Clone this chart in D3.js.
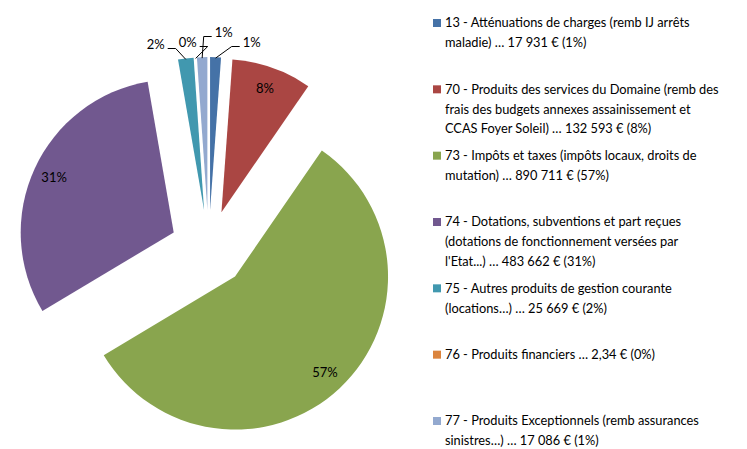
<!DOCTYPE html>
<html>
<head>
<meta charset="utf-8">
<script src="https://cdn.jsdelivr.net/npm/d3@7"></script>
<style>
  body { margin: 0; background: #fff; }
  text { font-family: "Lato", "Liberation Sans", sans-serif; fill: #000; }
</style>
</head>
<body>
<div id="chart"></div>
<script>
// Data
const codes = ["13", "70", "73", "74", "75", "76", "77"];
const amounts = [17931, 132593, 890711, 483662, 25669, 2.34, 17086];
const percentLabels = ["1%", "8%", "57%", "31%", "2%", "0%", "1%"];
const legendLines = [
  ["13 - Atténuations de charges (remb IJ arrêts", "maladie) … 17 931 € (1%)"],
  ["70 - Produits des services du Domaine (remb des", "frais des budgets annexes assainissement et", "CCAS Foyer Soleil) … 132 593 € (8%)"],
  ["73 - Impôts et taxes (impôts locaux, droits de", "mutation) … 890 711 € (57%)"],
  ["74 - Dotations, subventions et part reçues", "(dotations de fonctionnement versées par", "l'Etat...) … 483 662 € (31%)"],
  ["75 - Autres produits de gestion courante", "(locations…) … 25 669 € (2%)"],
  ["76 - Produits financiers … 2,34 € (0%)"],
  ["77 - Produits Exceptionnels (remb assurances", "sinistres…) … 17 086 € (1%)"]
];
const colors = ["#4572A7", "#AA4643", "#89A54E", "#71588F", "#4198AF", "#DB843D", "#93A9CF"];

const width = 747, height = 449;
const cx = 208.7, cy = 248.5;
const radius = 153;
const explode = 38.5;

const data = codes.map((c, i) => ({ code: c, value: amounts[i], label: percentLabels[i], color: colors[i], i }));

const svg = d3.select("#chart")
  .append("svg")
  .attr("width", width)
  .attr("height", height);

const pie = d3.pie()
  .sort(null)
  .value(d => d.value);

const arc = d3.arc()
  .innerRadius(0)
  .outerRadius(radius);

const arcs = pie(data);
const mid = d => (d.startAngle + d.endAngle) / 2;
const offset = d => [Math.sin(mid(d)) * explode, -Math.cos(mid(d)) * explode];

const pieG = svg.append("g")
  .attr("transform", `translate(${cx},${cy})`);

pieG.selectAll(".slice")
  .data(arcs)
  .enter()
  .append("path")
  .attr("class", "slice")
  .attr("d", arc)
  .attr("fill", d => d.data.color)
  .attr("transform", d => `translate(${offset(d)})`);

// inside labels for the big slices
const big = arcs.filter(d => d.endAngle - d.startAngle > 0.2);
pieG.selectAll(".in-label")
  .data(big)
  .enter()
  .append("text")
  .attr("class", "in-label")
  .attr("text-anchor", "middle")
  .attr("dy", "0.35em")
  .style("font-size", "13px")
  .attr("x", d => offset(d)[0] + Math.sin(mid(d)) * radius * 0.86)
  .attr("y", d => offset(d)[1] - Math.cos(mid(d)) * radius * 0.86)
  .text(d => d.data.label);

// outside labels for the thin slices, spread horizontally
const small = arcs.filter(d => d.endAngle - d.startAngle <= 0.2)
  .map(d => {
    let a = mid(d);
    if (a > Math.PI) a -= 2 * Math.PI;
    return { d, a };
  })
  .sort((p, q) => p.a - q.a);

const gap = 32;
const meanX = -5;
small.forEach((p, k) => {
  p.x = meanX + (k - (small.length - 1) / 2) * gap + (k === 2 ? 4 : 0);
  p.y = -206 - (k === 2 ? 10 : 0) + (k === 0 ? 2 : 0);
  const r = radius + explode;
  p.tx = Math.sin(p.a) * r;
  p.ty = -Math.cos(p.a) * r + 1;
});

pieG.selectAll(".out-label")
  .data(small)
  .enter()
  .append("text")
  .attr("class", "out-label")
  .attr("text-anchor", "middle")
  .attr("dy", "0.35em")
  .style("font-size", "13px")
  .attr("x", p => p.x)
  .attr("y", p => p.y)
  .text(p => p.d.data.label);

// leader lines (none for the 0% slice)
pieG.selectAll(".leader")
  .data(small.filter(p => p.d.data.value >= 1))
  .enter()
  .append("polyline")
  .attr("class", "leader")
  .attr("fill", "none")
  .attr("stroke", "#000")
  .attr("stroke-width", 1)
  .attr("points", p => {
    const side = p.tx > p.x ? 1 : -1;
    const sx = p.x + side * 12;
    const sy = p.y + 4;
    const ex = sx + side * 8;
    return `${sx},${sy} ${ex},${sy} ${p.tx},${p.ty}`;
  });

// legend
const legendY = d3.scaleLinear()
  .domain([0, codes.length - 1])
  .range([23, 421]);

const legend = svg.append("g")
  .attr("class", "legend");

const entry = legend.selectAll(".entry")
  .data(data)
  .enter()
  .append("g")
  .attr("class", "entry")
  .attr("transform", d => `translate(433,${legendY(d.i)})`);

entry.append("rect")
  .attr("x", 0)
  .attr("y", -4)
  .attr("width", 8)
  .attr("height", 8)
  .attr("fill", d => d.color);

entry.append("text")
  .style("font-size", "12.8px")
  .selectAll("tspan")
  .data(d => legendLines[d.i])
  .enter()
  .append("tspan")
  .attr("x", 12)
  .attr("y", (t, j) => j * 19.8)
  .attr("dy", "0.35em")
  .text(t => t);
</script>
</body>
</html>
